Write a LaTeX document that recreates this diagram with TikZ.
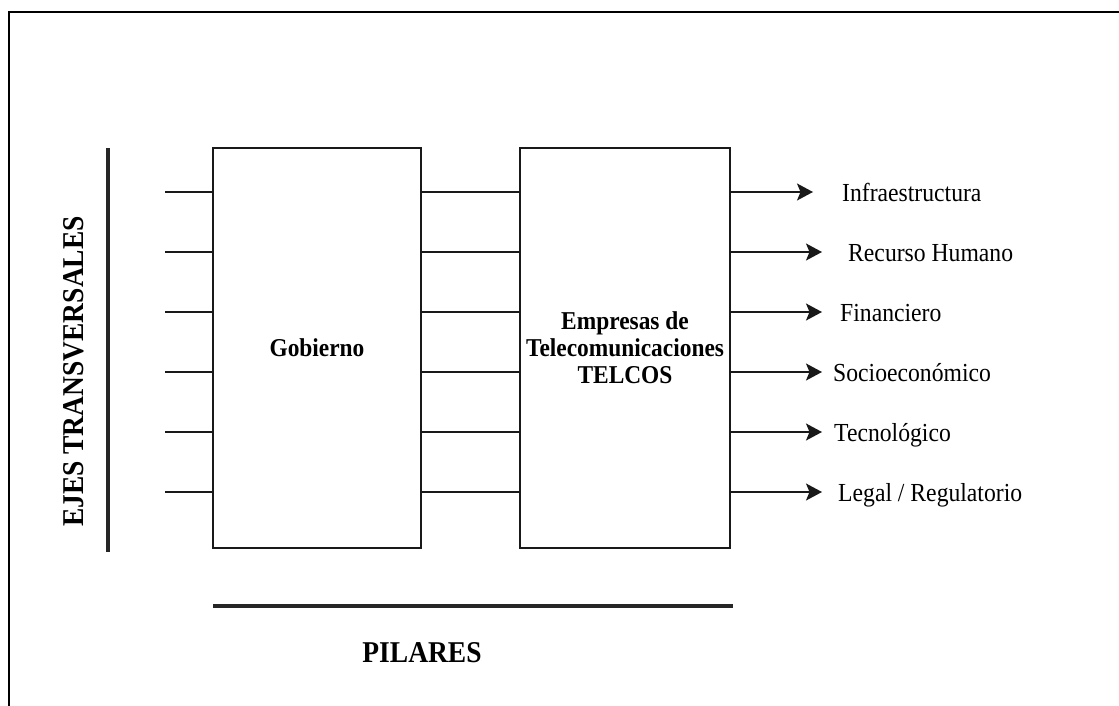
\documentclass[tikz,border=0pt]{standalone}
\usepackage{fontspec}
\setmainfont{Liberation Serif}[FakeStretch=0.91]
\usetikzlibrary{arrows.meta}
\begin{document}
\begin{tikzpicture}[x=1pt,y=-1pt,
  frame/.style={draw=black, line width=2pt},
  pillarbox/.style={draw=black!90, line width=1.6pt, inner sep=0pt, align=center,
    font=\bfseries\fontsize{25.7}{27}\selectfont},
  stub/.style={draw=black!90, line width=1.5pt},
  outarrow/.style={stub, -{Stealth[length=16pt,width=17pt,inset=3.5pt]}},
  heavyrule/.style={draw=black!85, line width=3.6pt},
  outlabel/.style={anchor=base west, inner sep=0pt, font=\fontsize{26}{30}\selectfont},
  headtitle/.style={anchor=base, inner sep=0pt, font=\bfseries\fontsize{30.2}{34}\selectfont}]
\useasboundingbox (0,0) rectangle (1119,706);

% page frame (open to the right and bottom)
\draw[frame] (1119,12) -- (9,12) -- (9,706);

% the two pillars
\node[pillarbox, minimum width=208pt, minimum height=400pt] (gob) at (317,348) {Gobierno};
\node[pillarbox, minimum width=210pt, minimum height=400pt] (tel) at (625,348)
  {Empresas de\\Telecomunicaciones\\TELCOS};

% left stubs into Gobierno, links between the pillars
\foreach \i/\y in {1/192,2/252,3/312,4/372,5/432,6/492}{
  \coordinate (s\i) at (165,\y);
  \draw[stub] (s\i) -- (gob.west |- s\i);
  \draw[stub] (gob.east |- s\i) -- (tel.west |- s\i);
}

% outputs of the TELCOS pillar
\foreach \i/\y/\tx/\lx/\txt in {
  1/192/813/842/{Infraestructura},
  2/252/822/848/{Recurso Humano},
  3/312/822/840/{Financiero},
  4/372/822/833/{Socioeconómico},
  5/432/822/834/{Tecnológico},
  6/492/822/838/{Legal / Regulatorio}}{
  \coordinate (t\i) at (\tx,\y);
  \node[outlabel] (l\i) at (\lx,\y+9) {\txt};
  \draw[outarrow] (tel.east |- t\i) -- (t\i);
}

% transversal axis
\coordinate (ax1) at (108,148);
\coordinate (ax2) at (108,552);
\draw[heavyrule] (ax1) -- (ax2);
\node[headtitle, rotate=90] (ejes) at (83,371.5) {EJES TRANSVERSALES};

% pillars rule
\coordinate (pr1) at (213,606);
\coordinate (pr2) at (733,606);
\draw[heavyrule] (pr1) -- (pr2);
\node[headtitle] (pilares) at (422,662) {PILARES};
\end{tikzpicture}
\end{document}
